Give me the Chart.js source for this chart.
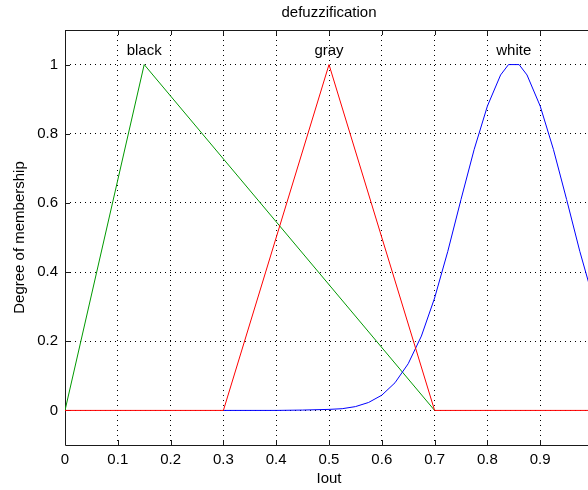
<!DOCTYPE html>
<html>
<head>
<meta charset="utf-8">
<script src="https://cdn.jsdelivr.net/npm/chart.js@4/dist/chart.umd.min.js"></script>
<style>
html,body{margin:0;padding:0;background:#fff;overflow:hidden;}
canvas{display:block;}
</style>
</head>
<body>
<canvas id="c" width="600" height="490"></canvas>
<script>
// ---- data ----
const xTicks = [0, 0.1, 0.2, 0.3, 0.4, 0.5, 0.6, 0.7, 0.8, 0.9, 1];
const xTickLabels = ['0', '0.1', '0.2', '0.3', '0.4', '0.5', '0.6', '0.7', '0.8', '0.9', '1'];
const yTicks = [0, 0.2, 0.4, 0.6, 0.8, 1];
const yTickLabels = ['0', '0.2', '0.4', '0.6', '0.8', '1'];

const mfNames = ['black', 'gray', 'white'];
const mfPeaks = [0.15, 0.5, 0.85];

const blackX = [0, 0.15, 0.7];
const blackY = [0, 1, 0];

const grayX = [0, 0.3, 0.5, 0.7, 1];
const grayY = [0, 0, 1, 0, 0];

const whiteX = [0.3, 0.4, 0.45, 0.5, 0.525, 0.55, 0.575, 0.6, 0.625, 0.65, 0.675, 0.7, 0.725, 0.75, 0.775, 0.8, 0.825, 0.84, 0.86, 0.875, 0.9, 0.925, 0.95, 0.975, 1];
const whiteY = [0, 0, 0.001, 0.003, 0.005, 0.011, 0.023, 0.044, 0.08, 0.135, 0.215, 0.325, 0.46, 0.61, 0.755, 0.88, 0.97, 1, 1, 0.97, 0.88, 0.755, 0.61, 0.46, 0.325];

const titleText = 'defuzzification';
const xTitle = 'Iout';
const yTitle = 'Degree of membership';

const FONT = "'Liberation Sans', Arial, sans-serif";
const pts = (xs, ys) => xs.map((x, i) => ({x: x, y: ys[i]}));

const decor = {
  id: 'decor',
  beforeDatasetsDraw(chart) {
    const {ctx, chartArea: a, scales: {x, y}} = chart;
    ctx.save();
    ctx.strokeStyle = '#1a1a1a';
    ctx.lineWidth = 1;
    ctx.beginPath();
    ctx.moveTo(Math.round(a.left) + 0.5, Math.round(a.top) + 0.5);
    ctx.lineTo(Math.round(a.left) + 0.5, Math.round(a.bottom) + 0.5);
    ctx.lineTo(Math.round(a.right) + 0.5, Math.round(a.bottom) + 0.5);
    ctx.lineTo(Math.round(a.right) + 0.5, Math.round(a.top) + 0.5);
    ctx.closePath();
    xTicks.forEach(v => {
      const px = Math.round(x.getPixelForValue(v)) + 0.5;
      ctx.moveTo(px, a.bottom); ctx.lineTo(px, a.bottom - 5);
      ctx.moveTo(px, a.top); ctx.lineTo(px, a.top + 5);
    });
    yTicks.forEach(v => {
      const py = Math.round(y.getPixelForValue(v)) + 0.5;
      ctx.moveTo(a.left, py); ctx.lineTo(a.left + 5, py);
      ctx.moveTo(a.right, py); ctx.lineTo(a.right - 5, py);
    });
    ctx.stroke();
    ctx.restore();
  },
  afterDraw(chart) {
    const {ctx, chartArea: a, scales: {x, y}} = chart;
    ctx.save();
    ctx.fillStyle = '#000';
    ctx.font = '15px ' + FONT;
    ctx.textAlign = 'center';
    ctx.textBaseline = 'middle';
    const cx = (a.left + a.right) / 2;
    ctx.fillText(titleText, cx, 13);
    ctx.fillText(xTitle, cx, 479);
    mfNames.forEach((n, i) => {
      ctx.fillText(n, x.getPixelForValue(mfPeaks[i]), y.getPixelForValue(1.04));
    });
    ctx.translate(20, (a.top + a.bottom) / 2);
    ctx.rotate(-Math.PI / 2);
    ctx.fillText(yTitle, 0, 0);
    ctx.restore();
  }
};

new Chart(document.getElementById('c'), {
  type: 'line',
  data: {
    datasets: [
      {data: pts(grayX, grayY), borderColor: '#ff0000', borderWidth: 1, pointRadius: 0, tension: 0, fill: false},
      {data: pts(whiteX, whiteY), borderColor: '#0000ff', borderWidth: 1, pointRadius: 0, tension: 0, fill: false},
      {data: pts(blackX, blackY), borderColor: '#009900', borderWidth: 1, pointRadius: 0, tension: 0, fill: false}
    ]
  },
  options: {
    responsive: false,
    animation: false,
    devicePixelRatio: 1,
    layout: {padding: {top: 30, right: 7, left: 0, bottom: 0}},
    plugins: {legend: {display: false}, title: {display: false}, tooltip: {enabled: false}},
    scales: {
      x: {
        type: 'linear', min: 0, max: 1,
        afterBuildTicks: s => { s.ticks = xTicks.map(v => ({value: v})); },
        afterFit: s => { s.height = 45; s.paddingLeft = 0; s.paddingRight = 0; },
        ticks: {callback: (v, i) => xTickLabels[i], font: {size: 15, family: FONT}, color: '#000', padding: 6, maxRotation: 0, autoSkip: false},
        grid: {color: '#000', lineWidth: 1, drawTicks: false},
        border: {display: false, dash: [1, 4]}
      },
      y: {
        type: 'linear', min: -0.1, max: 1.1,
        afterBuildTicks: s => { s.ticks = yTicks.map(v => ({value: v})); },
        afterFit: s => { s.width = 65; s.paddingTop = 0; s.paddingBottom = 0; },
        ticks: {callback: (v, i) => yTickLabels[i], font: {size: 15, family: FONT}, color: '#000', padding: 7, autoSkip: false},
        grid: {color: '#000', lineWidth: 1, drawTicks: false},
        border: {display: false, dash: [1, 4]}
      }
    }
  },
  plugins: [decor]
});
</script>
</body>
</html>
